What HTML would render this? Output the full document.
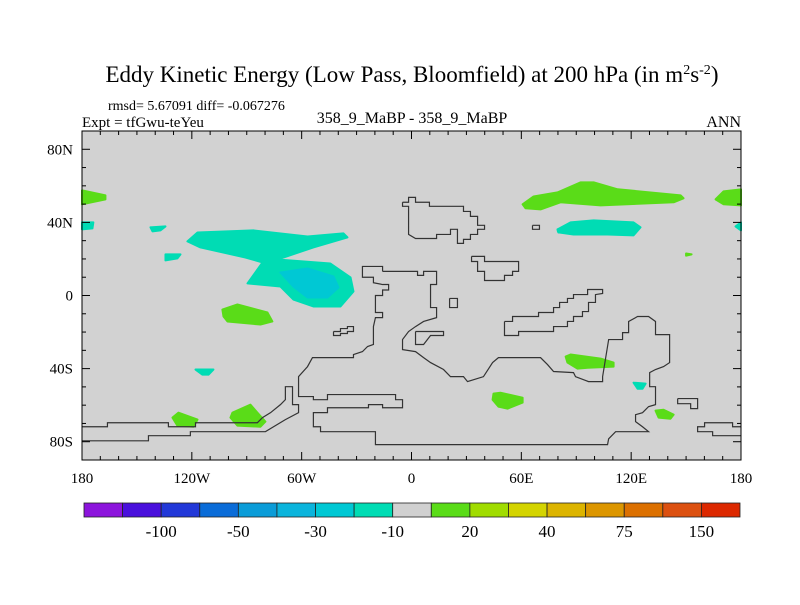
<!DOCTYPE html>
<html><head><meta charset="utf-8"><style>
body{margin:0;background:#fff;}
svg text{font-family:"Liberation Serif",serif;fill:#000;}
</style></head><body>
<svg id="c" width="800" height="600" viewBox="0 0 800 600" xmlns="http://www.w3.org/2000/svg">
<text x="412" y="82" font-size="23" text-anchor="middle">Eddy Kinetic Energy (Low Pass, Bloomfield) at 200 hPa (in m<tspan dy="-8" font-size="14">2</tspan><tspan dy="8">s</tspan><tspan dy="-8" font-size="14">-2</tspan><tspan dy="8">)</tspan></text>
<text x="108" y="110" font-size="14">rmsd= 5.67091 diff= -0.067276</text>
<text x="82" y="127" font-size="15">Expt = tfGwu-teYeu</text>
<text x="412" y="123" font-size="16" text-anchor="middle">358_9_MaBP - 358_9_MaBP</text>
<text x="741" y="127" font-size="16" text-anchor="end">ANN</text>
<g id="plot"></g>
<g id="cbar"></g>
</svg>
<script>
const fillColors=["#00dcb4","#00c8d4","#5adc18"];
const blobLevels=[0,0,1,0,0,0,0,0,2,2,2,2,2,2,2,0,0,2,2,0,2,2];
const blobs=[
[[-122.4,29.6],[-116.9,34.5],[-86.3,35.6],[-56.8,32.3],[-37.2,34],[-35,31.8],[-53.6,26.3],[-73.2,19.7],[-44.3,17.5],[-33.3,9.9],[-31.7,2.2],[-38.8,-6],[-53.6,-6],[-64.5,-2.2],[-71.6,4.9],[-89.6,6.6],[-81.4,18.1],[-90.7,20.8],[-115.3,26.3]],
[[-134.4,22.5],[-126.2,22.5],[-127.9,20.3],[-134.4,19.2]],
[[-71.6,12.6],[-56.8,14.8],[-42.6,10.4],[-39.9,4.4],[-45.9,-1.1],[-56.8,-1.1],[-64.5,4.9]],
[[-142.6,37.3],[-134.4,37.8],[-137.2,35.6],[-141.5,35.1]],
[[-180,40],[-173.8,40],[-174.3,36.7],[-180,36.2]],
[[-118,-40.5],[-108.2,-40.5],[-110.9,-43.3],[-114.2,-43.3]],
[[121.3,-47.7],[127.9,-48.2],[126.2,-51],[123.5,-51]],
[[177,37.8],[180,40],[180,35.6]],
[[-103.3,-7.7],[-95.1,-4.9],[-78.7,-9.3],[-76,-14.2],[-82.5,-15.9],[-100.5,-14.2],[-102.7,-11.5]],
[[-180,57.5],[-167.2,54.8],[-167.2,52.6],[-180,49.9]],
[[-130.6,-66.8],[-127.3,-64.1],[-116.9,-67.9],[-119.1,-71.8],[-127.9,-71.2]],
[[-97.8,-64.1],[-88,-59.7],[-84.2,-64.1],[-79.8,-69],[-82.5,-71.8],[-95.1,-71.2],[-98.9,-66.8]],
[[60.7,49.9],[66.7,54.2],[79.8,56.4],[92.3,61.9],[99.5,61.9],[112.6,58.1],[147,54.8],[148.6,53.2],[143.2,51],[103.3,49.3],[81.4,51],[70.5,47.1],[62.3,47.7]],
[[166.1,52.6],[170.5,57],[180,58.1],[180,49.3],[170.5,49.9]],
[[150,23],[153,22.5],[150,21.8]],
[[79.8,36.2],[86.9,40],[99.5,41.1],[121.3,40],[125.1,37.3],[121.3,32.9],[107.1,33.4],[88.5,33.4],[80.3,34.5]],
[[79.8,36.2],[80.3,34.5],[80,35]],
[[84.2,-33.4],[86.9,-32.3],[103.3,-34.5],[110.4,-36.7],[110.4,-38.9],[96.2,-39.5],[90.7,-40],[85.2,-36.7]],
[[44.8,-53.7],[48.6,-53.2],[60.7,-55.9],[60.7,-58.6],[52.5,-61.9],[47.5,-60.8],[44.3,-57]],
[[0,0],[0,0],[0,0]],
[[133.3,-63],[137.7,-62.5],[143.2,-65.2],[141.5,-67.4],[135,-66.8]],
[[0,0],[0,0],[0,0]]
];
const coasts=[
[[-180,-71.8],[-166.1,-71.8],[-166.1,-69.6],[-132.8,-69.6],[-132.8,-71.8],[-118,-71.8],[-118,-69.6],[-84.2,-69.6],[-81.4,-66.8],[-77,-64.1],[-71.6,-59.7],[-68.9,-57],[-68.9,-49.9],[-65,-49.9],[-65,-59.7],[-61.7,-59.7],[-61.7,-64.1],[-68.9,-67.9],[-79.8,-74.5],[-120.8,-74.5],[-120.8,-76.7],[-143.7,-76.7],[-143.7,-79.5],[-180,-79.5]],
[[-15.8,13.2],[3.3,13.2],[3.3,11],[6.6,11],[6.6,13.2],[13.7,13.2],[13.7,6],[10.4,6],[10.4,-6.6],[13.7,-6.6],[13.7,-12.1],[6.6,-14.2],[2.2,-17],[-1.6,-19.7],[-4.9,-24.1],[-4.9,-29.6],[2.2,-30.7],[6.6,-34],[10.4,-36.7],[17.5,-40.5],[21.3,-44.4],[28.4,-44.4],[30.6,-47.1],[39.3,-44.4],[44.3,-36.7],[47.5,-34],[70.5,-34],[74.3,-37.8],[77.6,-41.6],[88.5,-42.2],[89.6,-44.4],[96.7,-47.1],[104.4,-47.1],[104.4,-44.4],[107.7,-24.1],[115.3,-24.1],[115.3,-20.3],[118.6,-20.3],[118.6,-14.2],[123.5,-11.5],[129.5,-11.5],[133.3,-14.2],[133.3,-21.4],[141,-21.4],[141,-36.7],[137.7,-38.9],[133.3,-40.5],[130.1,-42.2],[130.1,-49.9],[133.3,-49.9],[133.3,-59.7],[129.5,-60.8],[126.2,-64.1],[122.4,-65.2],[122.4,-69],[126.2,-71.8],[129.5,-74.5],[111.5,-74.5],[107.7,-78.4],[107.1,-81.6],[-19.7,-81.6],[-19.7,-74.5],[-49.7,-74.5],[-49.7,-71.8],[-53.6,-71.8],[-53.6,-64.1],[-45.9,-64.1],[-45.9,-61.4],[-23.5,-61.4],[-23.5,-59.7],[-15.8,-59.7],[-15.8,-61.4],[-4.9,-61.4],[-4.9,-57],[-8.7,-57],[-8.7,-54.2],[-45.9,-54.2],[-45.9,-57],[-53.6,-57],[-53.6,-55.3],[-61.7,-55.3],[-61.7,-44.4],[-56.8,-38.9],[-54.1,-34],[-31.7,-34],[-31.7,-32.3],[-26.8,-30.7],[-24,-27.9],[-20.8,-26.8],[-20.8,-17],[-19.7,-12.1],[-15.8,-12.1],[-15.8,-9.3],[-19.7,-9.3],[-19.7,0],[-15.8,0],[-15.8,3],[-12.5,3],[-12.5,6],[-15.8,6],[-20.8,7],[-20.8,10],[-26.8,10],[-26.8,15.9],[-15.8,15.9],[-15.8,13.2]],
[[-4.9,51],[-1.6,51],[-1.6,53.7],[2.2,53.7],[2.2,51],[9.8,51],[9.8,48.8],[28.4,48.8],[28.4,46],[32.2,46],[32.2,43.3],[36.1,43.3],[36.1,38.4],[39.9,38.4],[39.9,36.2],[36.1,36.2],[36.1,33.4],[32.2,33.4],[32.2,30.7],[28.4,30.7],[28.4,28.5],[25.1,28.5],[25.1,36.2],[21.3,36.2],[21.3,33.4],[13.7,33.4],[13.7,31.2],[2.2,31.2],[-1.6,33.4],[-1.6,48.8],[-4.9,48.8],[-4.9,51]],
[[32.8,21.4],[39.9,21.4],[39.9,18.6],[58.5,18.6],[58.5,13.2],[55.2,13.2],[55.2,11],[50.8,11],[50.8,8.2],[39.9,8.2],[39.9,13.2],[36.1,13.2],[36.1,18.6],[32.8,18.6],[32.8,21.4]],
[[20.8,-1.6],[25.1,-1.6],[25.1,-6.6],[20.8,-6.6],[20.8,-1.6]],
[[66.1,38.4],[69.9,38.4],[69.9,36.2],[66.1,36.2],[66.1,38.4]],
[[50.8,-14.2],[55.2,-14.2],[55.2,-11.5],[69.4,-11.5],[69.4,-9.3],[77.6,-9.3],[77.6,-6.6],[80.9,-6.6],[80.9,-3.8],[85.2,-3.8],[85.2,-1.6],[88.5,-1.6],[88.5,0.5],[96.2,0.5],[96.2,3.3],[104.4,3.3],[104.4,1.1],[100.5,0.5],[100.5,-3.8],[96.7,-3.8],[96.7,-8.8],[93.4,-8.8],[93.4,-11.5],[88.5,-11.5],[88.5,-14.2],[85.2,-14.2],[85.2,-17],[77.6,-17],[77.6,-19.7],[58.5,-19.7],[58.5,-21.9],[50.8,-21.9],[50.8,-14.2]],
[[2.2,-19.7],[17.5,-19.7],[17.5,-21.9],[10.4,-21.9],[6.6,-26.8],[2.2,-26.8],[2.2,-19.7]],
[[145.4,-56.4],[156.3,-56.4],[156.3,-61.9],[152.5,-61.9],[152.5,-59.2],[145.4,-59.2],[145.4,-56.4]],
[[180,-71.8],[175.4,-71.8],[175.4,-69.6],[160.1,-69.6],[160.1,-71.8],[156.3,-71.8],[156.3,-74.5],[164.5,-74.5],[164.5,-76.7],[180,-76.7]],
[[-42.6,-19.7],[-38.8,-19.7],[-38.8,-18.1],[-35,-18.1],[-35,-17],[-31.7,-17],[-31.7,-19.7],[-35,-19.7],[-35,-20.8],[-38.8,-20.8],[-38.8,-21.9],[-42.6,-21.9],[-42.6,-19.7]]
];
const xTickLabels=["180","120W","60W","0","60E","120E","180"];
const xTickLons=[-180,-120,-60,0,60,120,180];
const yTickLabels=["80N","40N","0","40S","80S"];
const yTickLats=[80,40,0,-40,-80];
const cbColors=["#8c14dc","#4a10dc","#2238d8","#0a6cd8","#0a9cd8","#0ab4dc","#00c8d4","#00dcb4","#d0d0d0","#5adc18","#a0dc00","#d4d400","#dcb400","#dc9600","#dc7000","#dc5010","#dc2800"];
const cbLabels=["-100","-50","-30","-10","20","40","75","150"];

const NS="http://www.w3.org/2000/svg";
const L=82,R=741,T=131,B=460;
const xs=lon=>L+(lon+180)/360*(R-L);
const ys=lat=>T+(90-lat)/180*(B-T);
function mk(tag,attrs,parent){const e=document.createElementNS(NS,tag);for(const k in attrs)e.setAttribute(k,attrs[k]);parent.appendChild(e);return e;}
const plot=document.getElementById('plot');
const bg=mk('rect',{x:L,y:T,width:R-L,height:B-T,fill:'#d2d2d2'},plot);


blobs.forEach((poly,i)=>{
  const c=fillColors[blobLevels[i]];
  const p=mk('polygon',{points:poly.map(q=>xs(q[0])+','+ys(q[1])).join(' '),fill:c,stroke:c,'stroke-width':2,'stroke-linejoin':'round'},plot);
  
  
});
coasts.forEach(c=>{
  const p=mk('polyline',{points:c.map(q=>xs(q[0])+','+ys(q[1])).join(' '),fill:'none',stroke:'#333','stroke-width':1.2},plot);
  
  
});
const fr=mk('rect',{x:L,y:T,width:R-L,height:B-T,fill:'none',stroke:'#000','stroke-width':1},plot);


for(let lon=-180;lon<=180;lon+=10){
  const len=lon%60===0?8:4,x=xs(lon);
  const t1=mk('line',{x1:x,y1:B,x2:x,y2:B-len,stroke:'#000'},plot);
  
  
  const t2=mk('line',{x1:x,y1:T,x2:x,y2:T+len,stroke:'#000'},plot);
  
  
}
for(let lat=-80;lat<=80;lat+=10){
  const len=lat%40===0?8:4,y=ys(lat);
  const t1=mk('line',{x1:L,y1:y,x2:L+len,y2:y,stroke:'#000'},plot);
  
  
  const t2=mk('line',{x1:R,y1:y,x2:R-len,y2:y,stroke:'#000'},plot);
  
  
}
xTickLabels.forEach((s,i)=>{
  const t=mk('text',{x:xs(xTickLons[i]),y:483,'font-size':15,'text-anchor':'middle'},plot);t.textContent=s;
  
  
});
yTickLabels.forEach((s,i)=>{
  const t=mk('text',{x:73,y:ys(yTickLats[i])+5,'font-size':15,'text-anchor':'end'},plot);t.textContent=s;
  
  
});
const cb=document.getElementById('cbar');
const cx0=84,cx1=740,cw=(cx1-cx0)/cbColors.length;
cbColors.forEach((c,i)=>{
  const r=mk('rect',{x:cx0+i*cw,y:503,width:cw,height:14,fill:c,stroke:'#222','stroke-width':0.8},cb);
  
  
});
cbLabels.forEach((s,i)=>{
  const t=mk('text',{x:cx0+(2*i+2)*cw,y:537,'font-size':17,'text-anchor':'middle'},cb);t.textContent=s;
  
  
});
</script>
</body></html>
